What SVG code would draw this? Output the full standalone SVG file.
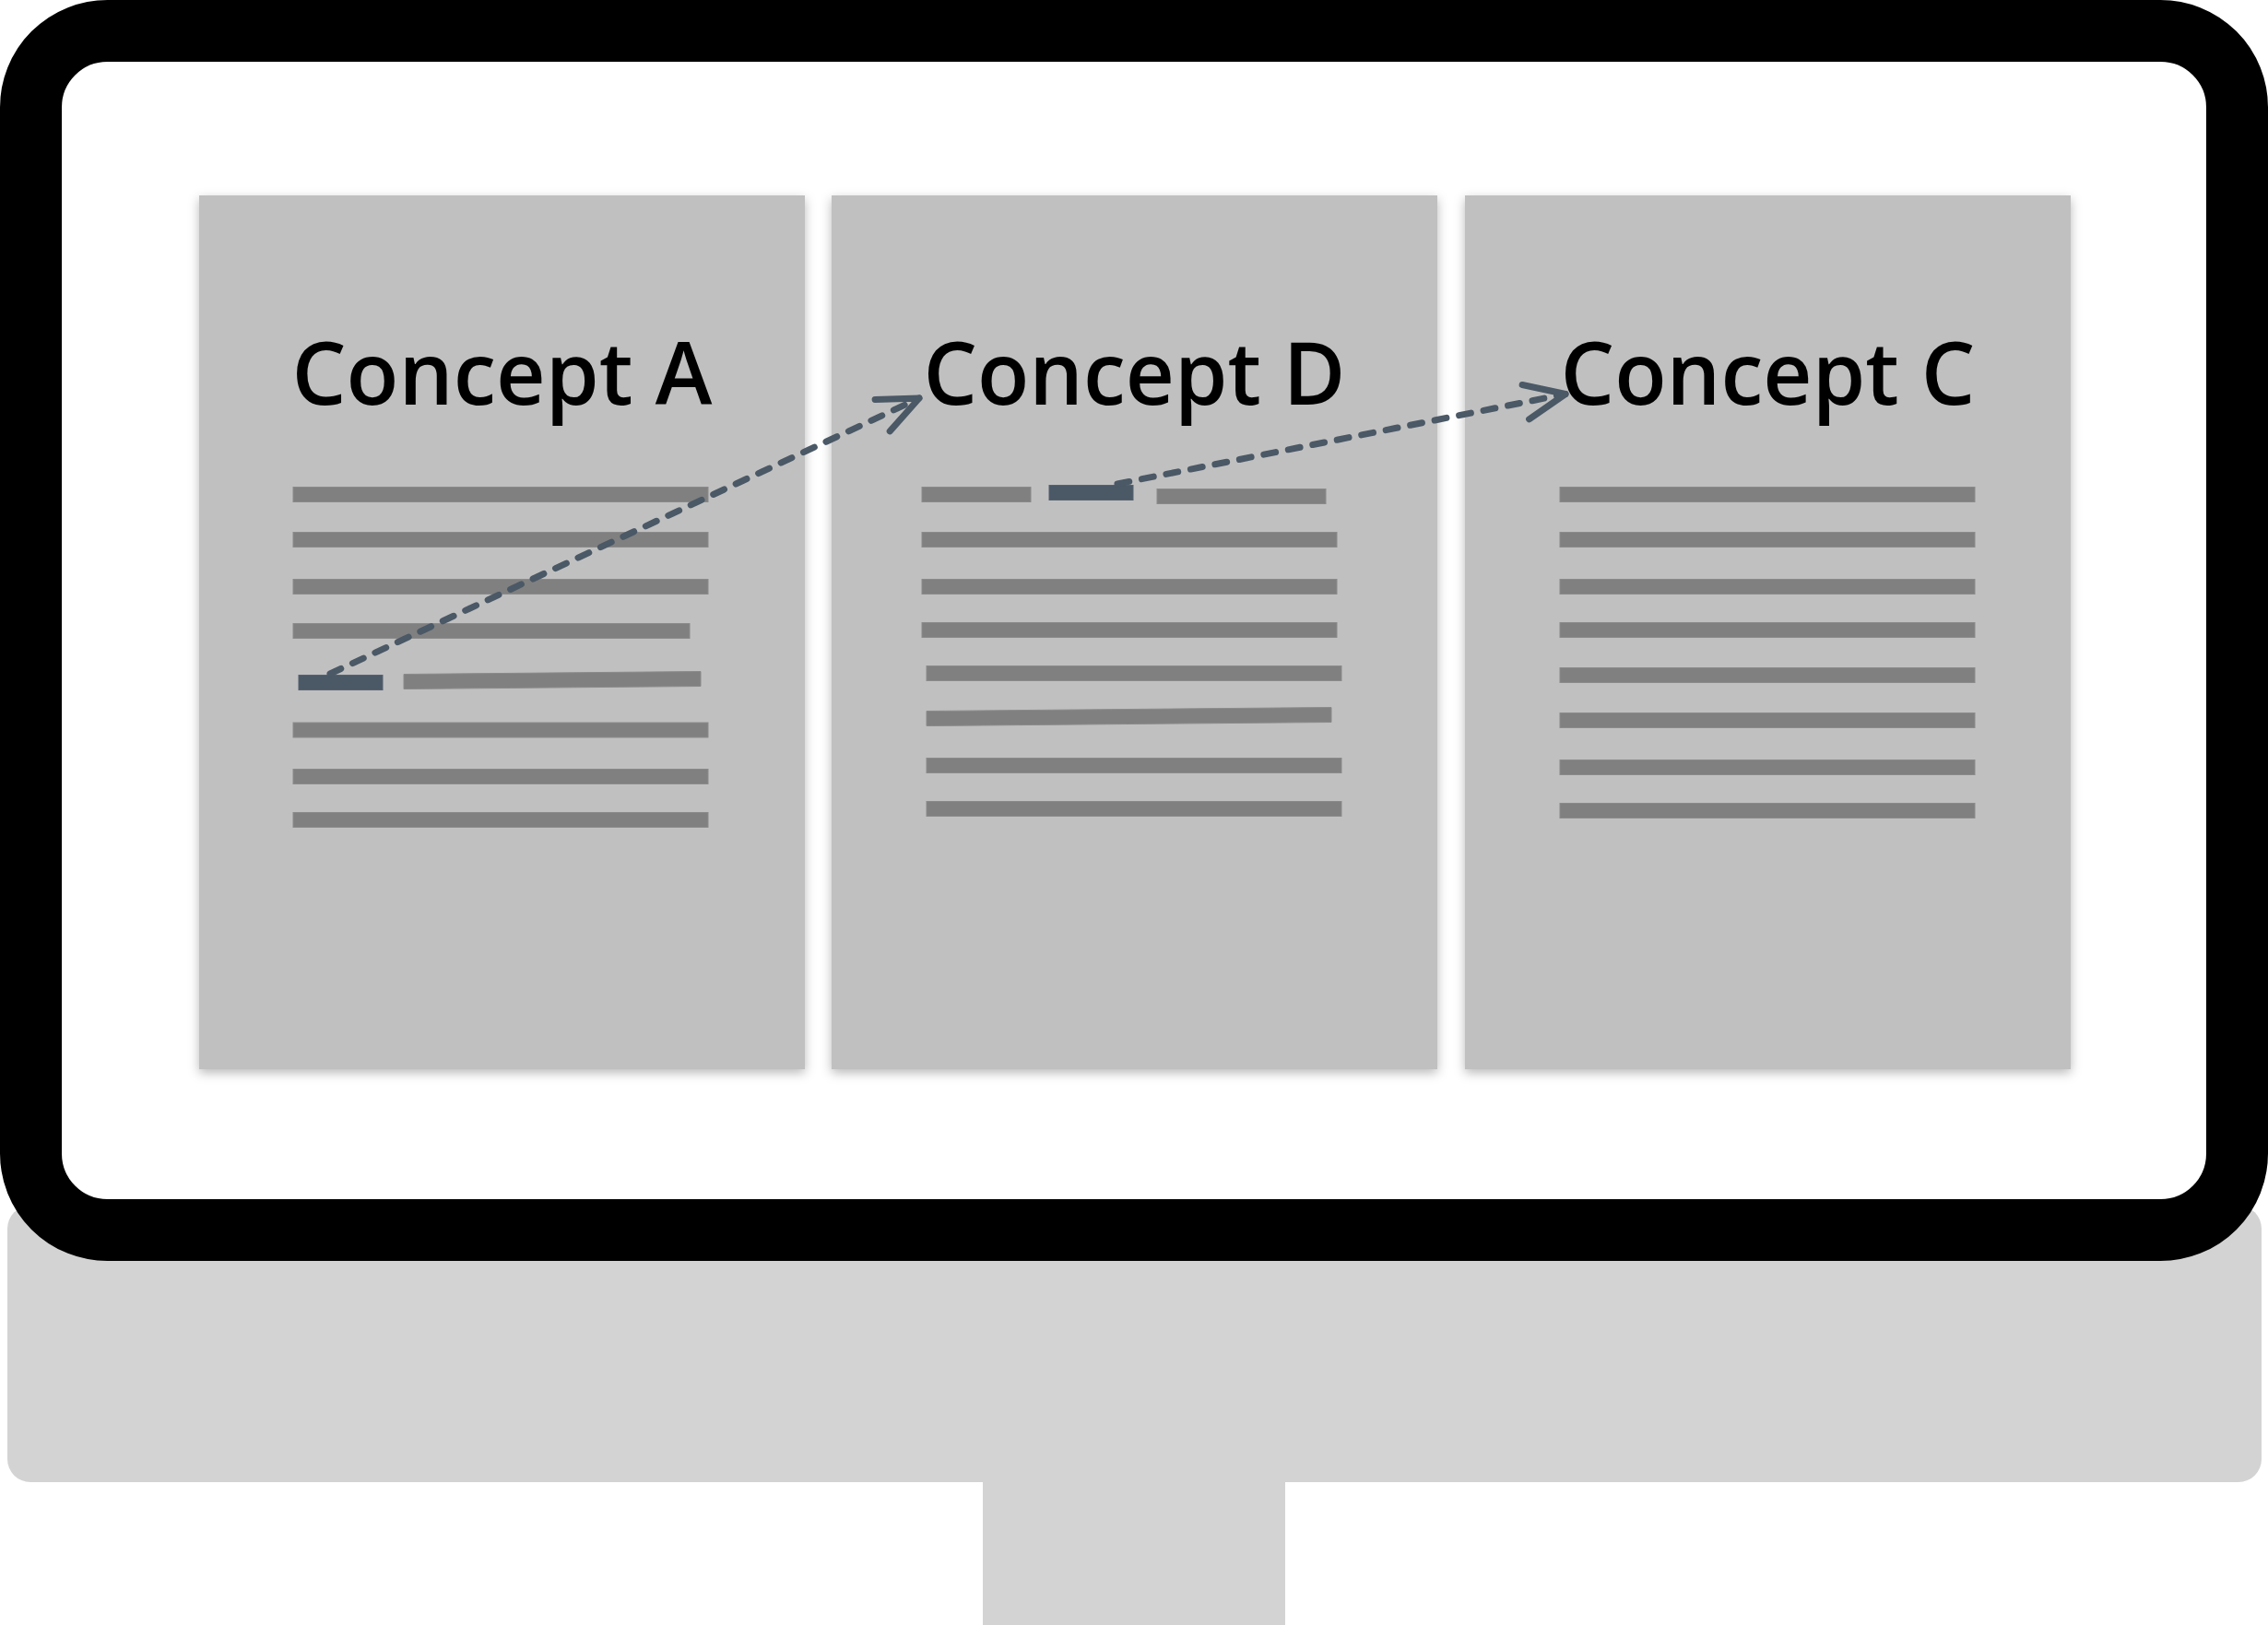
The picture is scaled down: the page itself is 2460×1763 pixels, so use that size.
<svg xmlns="http://www.w3.org/2000/svg" width="2460" height="1763" viewBox="0 0 2460 1763">
  <style>
    .stand { fill: #d3d3d3; }
    .page { fill: #c0c0c0; filter: url(#shadow); }
    .title { font-family: "Open Sans", "Noto Sans", "Liberation Sans", sans-serif; font-size: 95px; font-weight: 600; fill: #000000; text-anchor: middle; }
    .ln { fill: #808080; stroke: #8a8a8a; stroke-width: 1; }
    .hl { fill: #4b5866; stroke: #56616e; stroke-width: 1; }
    .conn { fill: none; stroke: #4b5866; stroke-width: 7; stroke-linecap: round; stroke-dasharray: 13 14; }
  </style>
  <defs>
    <filter id="shadow" x="-10%" y="-10%" width="120%" height="120%">
      <feDropShadow dx="0" dy="4" stdDeviation="6" flood-color="#000000" flood-opacity="0.28"/>
    </filter>
    <marker id="arrow" markerUnits="userSpaceOnUse" markerWidth="80" markerHeight="80" viewBox="-60 -40 80 80" refX="0" refY="0" orient="auto" overflow="visible">
      <path d="M -44 -19 L 0 0 L -44 19" fill="none" stroke="#4b5866" stroke-width="7" stroke-linecap="round" stroke-linejoin="round" stroke-dasharray="none"/>
    </marker>
  </defs>

  <g id="monitor">
    <rect class="stand" x="1066" y="1600" width="328" height="163"/>
    <rect class="stand" x="8" y="1308" width="2445" height="300" rx="25" ry="25"/>
    <rect x="33.5" y="33.5" width="2393" height="1301" rx="83" ry="83" fill="#ffffff" stroke="#000000" stroke-width="67"/>
  </g>

  <g id="page-concept-a">
    <rect class="page" x="216" y="212" width="657" height="948"/>
    <text class="title" x="544.5" y="439" textLength="456" lengthAdjust="spacingAndGlyphs">Concept A</text>
    <rect class="ln" x="318" y="528.5" width="450" height="16"/>
    <rect class="ln" x="318" y="577.5" width="450" height="16"/>
    <rect class="ln" x="318" y="628.5" width="450" height="16"/>
    <rect class="ln" x="318" y="676.5" width="430" height="16"/>
    <rect class="hl" x="324" y="732.5" width="91" height="16"/>
    <polygon class="ln" points="438,731.5 760,728.5 760,744.5 438,747.5"/>
    <rect class="ln" x="318" y="784" width="450" height="16"/>
    <rect class="ln" x="318" y="834.5" width="450" height="16"/>
    <rect class="ln" x="318" y="881.5" width="450" height="16"/>
  </g>

  <g id="page-concept-d">
    <rect class="page" x="902" y="212" width="657" height="948"/>
    <text class="title" x="1230.5" y="439" textLength="458" lengthAdjust="spacingAndGlyphs">Concept D</text>
    <rect class="ln" x="1000" y="528.5" width="118" height="16"/>
    <rect class="hl" x="1138" y="526.5" width="91" height="16"/>
    <rect class="ln" x="1255" y="530.5" width="183" height="16"/>
    <rect class="ln" x="1000" y="577.5" width="450" height="16"/>
    <rect class="ln" x="1000" y="628.5" width="450" height="16"/>
    <rect class="ln" x="1000" y="675.5" width="450" height="16"/>
    <rect class="ln" x="1005" y="722.5" width="450" height="16"/>
    <polygon class="ln" points="1005,771.5 1444,767.5 1444,783.5 1005,787.5"/>
    <rect class="ln" x="1005" y="822.5" width="450" height="16"/>
    <rect class="ln" x="1005" y="869.5" width="450" height="16"/>
  </g>

  <g id="page-concept-c">
    <rect class="page" x="1589" y="212" width="657" height="948"/>
    <text class="title" x="1917.5" y="439" textLength="450" lengthAdjust="spacingAndGlyphs">Concept C</text>
    <rect class="ln" x="1692" y="528.5" width="450" height="16"/>
    <rect class="ln" x="1692" y="577.5" width="450" height="16"/>
    <rect class="ln" x="1692" y="628.5" width="450" height="16"/>
    <rect class="ln" x="1692" y="675.5" width="450" height="16"/>
    <rect class="ln" x="1692" y="724.5" width="450" height="16"/>
    <rect class="ln" x="1692" y="773.5" width="450" height="16"/>
    <rect class="ln" x="1692" y="824.5" width="450" height="16"/>
    <rect class="ln" x="1692" y="871.5" width="450" height="16"/>
  </g>

  <g id="connectors">
    <path class="conn" d="M 358 731 L 997 432" marker-end="url(#arrow)"/>
    <path class="conn" d="M 1212 525 L 1698 427.5" marker-end="url(#arrow)"/>
  </g>
</svg>
